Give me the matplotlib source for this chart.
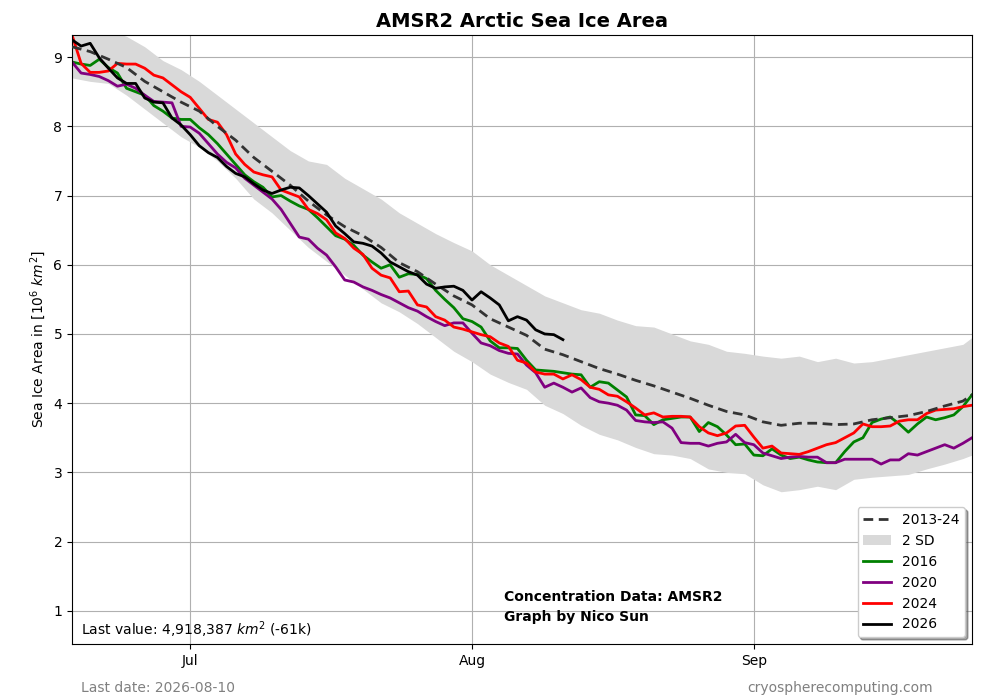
import matplotlib
matplotlib.use("Agg")
import matplotlib.pyplot as plt

# ── día del año (doy) y valores en millones de km² ─────────────────
clim_days = [169, 171, 173, 175, 177, 179, 181, 183, 185, 187, 189, 191, 193,
             195, 197, 199, 201, 203, 205, 207, 209, 211, 213, 215, 217, 219,
             221, 223, 225, 227, 229, 231, 233, 235, 237, 239, 241, 243, 245,
             247, 249, 251, 253, 255, 257, 259, 261, 263, 265, 267, 268]
clim_mean = [9.15, 9.08, 8.97, 8.85, 8.65, 8.5, 8.35, 8.22, 8.0, 7.8, 7.55, 7.35,
             7.15, 6.92, 6.72, 6.55, 6.42, 6.25, 6.03, 5.9, 5.72, 5.55, 5.42,
             5.22, 5.1, 4.98, 4.78, 4.7, 4.6, 4.5, 4.42, 4.33, 4.25, 4.16, 4.07,
             3.97, 3.88, 3.83, 3.73, 3.68, 3.71, 3.71, 3.69, 3.7, 3.76, 3.79,
             3.82, 3.88, 3.96, 4.03, 4.12]
sd_upper = [9.5, 9.45, 9.4, 9.3, 9.15, 8.95, 8.82, 8.65, 8.45, 8.25, 8.05, 7.85,
            7.65, 7.5, 7.45, 7.25, 7.1, 6.95, 6.75, 6.6, 6.45, 6.32, 6.2, 6.0,
            5.85, 5.7, 5.55, 5.45, 5.35, 5.3, 5.2, 5.12, 5.1, 5.0, 4.9, 4.85,
            4.75, 4.72, 4.68, 4.65, 4.68, 4.6, 4.65, 4.58, 4.6, 4.65, 4.7, 4.75,
            4.8, 4.85, 4.95]
sd_lower = [8.7, 8.65, 8.62, 8.45, 8.25, 8.05, 7.85, 7.7, 7.5, 7.25, 6.95, 6.75,
            6.5, 6.25, 6.05, 5.85, 5.65, 5.45, 5.32, 5.15, 4.95, 4.75, 4.6, 4.42,
            4.3, 4.2, 3.97, 3.85, 3.68, 3.55, 3.47, 3.36, 3.27, 3.25, 3.2, 3.05,
            3.0, 2.98, 2.82, 2.72, 2.75, 2.8, 2.75, 2.9, 2.93, 2.95, 2.97, 3.05,
            3.12, 3.2, 3.25]

days = list(range(169, 269))
y2016 = [8.93, 8.9, 8.88, 8.97, 8.85, 8.77, 8.55, 8.5, 8.45, 8.3, 8.22, 8.12,
         8.1, 8.1, 7.98, 7.88, 7.75, 7.6, 7.45, 7.3, 7.2, 7.12, 6.98, 7.0, 6.92,
         6.85, 6.8, 6.68, 6.55, 6.42, 6.37, 6.28, 6.14, 6.04, 5.95, 6.0, 5.82,
         5.87, 5.86, 5.8, 5.63, 5.5, 5.38, 5.22, 5.18, 5.1, 4.9, 4.8, 4.8, 4.79,
         4.62, 4.48, 4.47, 4.46, 4.44, 4.42, 4.41, 4.23, 4.31, 4.29, 4.19, 4.09,
         3.83, 3.82, 3.69, 3.76, 3.78, 3.8, 3.8, 3.59, 3.72, 3.66, 3.54, 3.4,
         3.41, 3.25, 3.24, 3.34, 3.25, 3.2, 3.22, 3.18, 3.15, 3.14, 3.14, 3.3,
         3.44, 3.5, 3.72, 3.77, 3.8, 3.7, 3.58, 3.7, 3.8, 3.76, 3.79, 3.83,
         3.95, 4.12]
y2020 = [8.93, 8.77, 8.75, 8.72, 8.66, 8.58, 8.61, 8.55, 8.45, 8.36, 8.35, 8.34,
         8.0, 7.99, 7.9, 7.75, 7.6, 7.48, 7.4, 7.25, 7.15, 7.05, 6.95, 6.8, 6.6,
         6.4, 6.37, 6.24, 6.14, 5.97, 5.78, 5.75, 5.68, 5.63, 5.57, 5.52, 5.45,
         5.38, 5.33, 5.25, 5.18, 5.12, 5.16, 5.16, 5.01, 4.87, 4.83, 4.76, 4.72,
         4.71, 4.55, 4.44, 4.23, 4.29, 4.23, 4.16, 4.22, 4.08, 4.02, 4.0, 3.97,
         3.9, 3.75, 3.73, 3.72, 3.73, 3.64, 3.43, 3.42, 3.42, 3.38, 3.42, 3.44,
         3.55, 3.43, 3.4, 3.28, 3.24, 3.2, 3.22, 3.23, 3.22, 3.22, 3.14, 3.14,
         3.19, 3.19, 3.19, 3.19, 3.12, 3.18, 3.18, 3.27, 3.25, 3.3, 3.35, 3.4,
         3.35, 3.42, 3.5]
y2024 = [9.32, 8.91, 8.78, 8.78, 8.8, 8.91, 8.9, 8.9, 8.84, 8.74, 8.7, 8.6,
         8.5, 8.42, 8.26, 8.1, 8.06, 7.88, 7.6, 7.45, 7.34, 7.3, 7.27, 7.08,
         7.03, 6.98, 6.8, 6.74, 6.65, 6.46, 6.38, 6.24, 6.15, 5.95, 5.85, 5.81,
         5.61, 5.62, 5.42, 5.39, 5.25, 5.2, 5.1, 5.07, 5.03, 4.99, 4.96, 4.87,
         4.82, 4.62, 4.58, 4.45, 4.42, 4.42, 4.35, 4.41, 4.34, 4.23, 4.2, 4.12,
         4.1, 4.02, 3.93, 3.83, 3.86, 3.8, 3.81, 3.81, 3.8, 3.66, 3.57, 3.53,
         3.57, 3.67, 3.68, 3.51, 3.35, 3.38, 3.28, 3.27, 3.26, 3.3, 3.35, 3.4,
         3.43, 3.5, 3.57, 3.7, 3.66, 3.66, 3.67, 3.74, 3.76, 3.76, 3.85, 3.9,
         3.91, 3.92, 3.95, 3.97]
days_2026 = list(range(169, 224))
y2026 = [9.25, 9.16, 9.2, 8.99, 8.84, 8.7, 8.62, 8.62, 8.41, 8.35, 8.34, 8.12,
         8.02, 7.88, 7.72, 7.62, 7.55, 7.42, 7.32, 7.27, 7.17, 7.08, 7.03, 7.08,
         7.12, 7.11, 7.0, 6.88, 6.76, 6.56, 6.45, 6.33, 6.31, 6.27, 6.17, 6.04,
         5.97, 5.9, 5.85, 5.72, 5.66, 5.68, 5.69, 5.63, 5.49, 5.61, 5.52, 5.42,
         5.19, 5.25, 5.2, 5.06, 5.0, 4.99, 4.918]

month_ticks = [182, 213, 244]
month_labels = ["Jul", "Aug", "Sep"]

fig = plt.figure(figsize=(10, 7), dpi=100)
ax = fig.add_axes([0.072, 0.08, 0.9, 0.87])

ax.fill_between(clim_days, sd_lower, sd_upper, color="#d9d9d9", lw=0,
                label="2 SD", zorder=1)
ax.plot(clim_days, clim_mean, color="#333333", lw=2, ls=(0, (3.5, 2)),
        label="2013-24", zorder=3)
ax.plot(days, y2016, color="green", lw=2, label="2016", zorder=2)
ax.plot(days, y2020, color="purple", lw=2, label="2020", zorder=2)
ax.plot(days, y2024, color="red", lw=2, label="2024", zorder=2)
ax.plot(days_2026, y2026, color="black", lw=2, label="2026", zorder=4)

ax.set_xlim(169, 268)
ax.set_ylim(0.52, 9.32)
ax.set_xticks(month_ticks)
ax.set_xticklabels(month_labels)
ax.set_yticks(range(1, 10))
ax.grid(True, color="#b0b0b0", lw=0.8)
ax.set_axisbelow(True)
ax.set_ylabel("Sea Ice Area in [$10^6$ $km^2$]")
ax.set_title("AMSR2 Arctic Sea Ice Area", fontsize=14, fontweight="bold")

h, l = ax.get_legend_handles_labels()
order = [l.index(k) for k in ["2013-24", "2 SD", "2016", "2020", "2024", "2026"]]
ax.legend([h[i] for i in order], [l[i] for i in order], loc="lower right",
          shadow=True, fontsize=10)

ax.text(0.01, 0.006, "Last value: 4,918,387 $km^2$ (-61k)", transform=ax.transAxes,
        fontsize=10, va="bottom")
fig.text(0.504, 1 - 590 / 700, "Concentration Data: AMSR2\nGraph by Nico Sun",
         fontsize=10, fontweight="bold", va="top", linespacing=1.5)
fig.text(0.081, 1 - 688 / 700, "Last date: 2026-08-10", fontsize=10,
         color="gray", va="center")
fig.text(0.933, 1 - 688 / 700, "cryospherecomputing.com", fontsize=10,
         color="gray", va="center", ha="right")

fig.savefig("out.png", dpi=100)
